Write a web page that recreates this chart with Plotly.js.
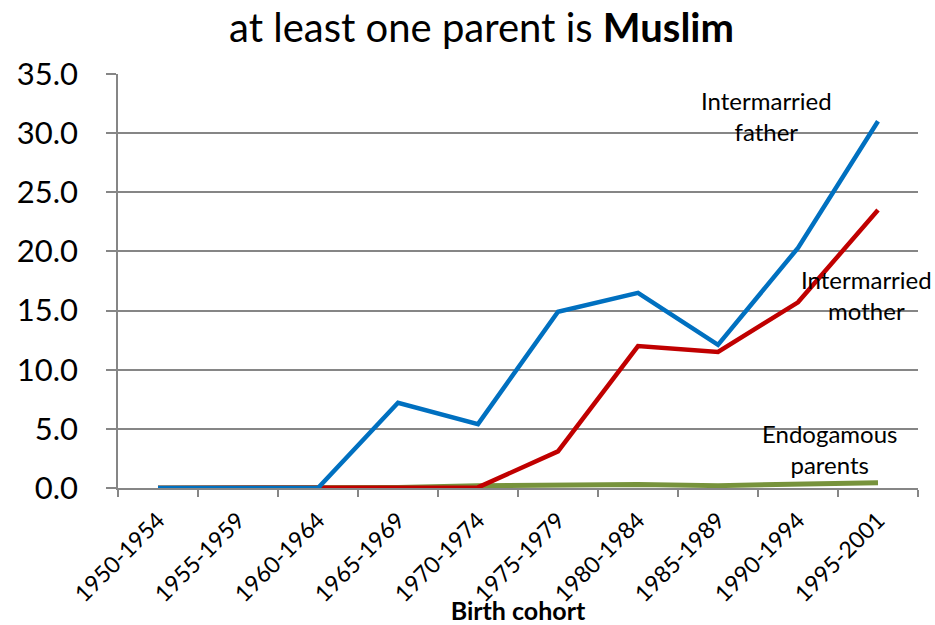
<!DOCTYPE html>
<html><head><meta charset="utf-8">
<script src="https://cdn.plot.ly/plotly-3.0.1.min.js"></script>
<style>body{margin:0;background:#fff}#c{width:935px;height:625px}</style>
</head><body><div id="c"></div>
<script>
var cohorts = ["1950-1954","1955-1959","1960-1964","1965-1969","1970-1974","1975-1979","1980-1984","1985-1989","1990-1994","1995-2001"];
var endogamous = [0, 0, 0, 0.05, 0.2, 0.25, 0.3, 0.2, 0.3, 0.45];
var intermarriedMother = [0, 0, 0, 0, 0.05, 3.1, 12.0, 11.5, 15.7, 23.5];
var intermarriedFather = [0, 0, 0, 7.2, 5.4, 14.9, 16.5, 12.1, 20.3, 31.0];
var yTicks = [0,5,10,15,20,25,30,35];

var F = "Lato, 'Open Sans', sans-serif";
var traces = [
  {x: cohorts, y: endogamous, type:"scatter", mode:"lines", line:{color:"#77933C", width:5}, name:"Endogamous parents"},
  {x: cohorts, y: intermarriedMother, type:"scatter", mode:"lines", line:{color:"#C00000", width:4.5}, name:"Intermarried mother"},
  {x: cohorts, y: intermarriedFather, type:"scatter", mode:"lines", line:{color:"#0070C0", width:4.5}, name:"Intermarried father"}
];
var layout = {
  width:935, height:625,
  margin:{l:118, r:17, t:74, b:137},
  showlegend:false,
  paper_bgcolor:"#fff", plot_bgcolor:"#fff",
  title:{text:"at least one parent is <b>Muslim</b>", x:0.515, xanchor:"center", y:0.955, yanchor:"middle", font:{family:F, size:40, color:"#000"}},
  xaxis:{type:"category", range:[-0.5, 9.5], tickson:"boundaries", ticks:"outside", ticklen:7, tickcolor:"#868686", tickwidth:1.5,
    showline:true, linecolor:"#868686", linewidth:1.5, showgrid:false, tickangle:-45, ticklabelstandoff:8,
    tickfont:{family:F, size:23, color:"#000"},
    title:{text:"<b>Birth cohort</b>", font:{family:F, size:25, color:"#000"}, standoff:0}},
  yaxis:{range:[0,35], tickvals:yTicks, tickformat:".1f", ticks:"outside", ticklen:10, tickcolor:"#868686", tickwidth:1.5,
    showline:true, linecolor:"#868686", linewidth:1.5, showgrid:true, gridcolor:"#868686", gridwidth:1.5, zeroline:false,
    ticklabelstandoff:22,
    tickfont:{family:F, size:31, color:"#000"}},
  annotations:[
    {x:7.6, y:31.45, xref:"x", yref:"y", text:"Intermarried<br>father", showarrow:false, font:{family:F, size:24, color:"#000"}},
    {x:8.85, y:16.3, xref:"x", yref:"y", text:"Intermarried<br>mother", showarrow:false, font:{family:F, size:24, color:"#000"}},
    {x:8.39, y:3.3, xref:"x", yref:"y", text:"Endogamous<br>parents", showarrow:false, font:{family:F, size:24, color:"#000"}}
  ]
};
Plotly.newPlot("c", traces, layout, {displayModeBar:false});
</script></body></html>
